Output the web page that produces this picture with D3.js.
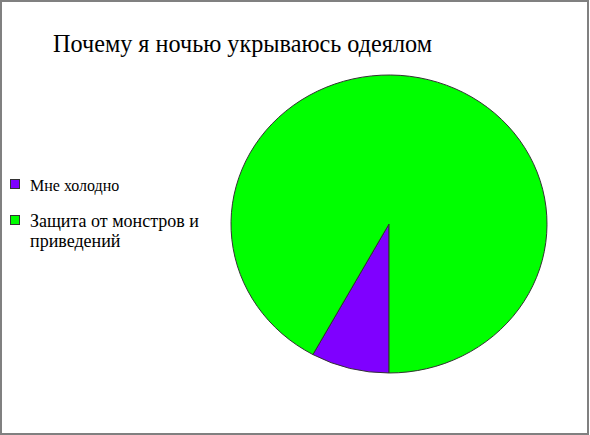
<!DOCTYPE html>
<html>
<head>
<meta charset="utf-8">
<script src="https://cdn.jsdelivr.net/npm/d3@7"></script>
<style>
  body { margin: 0; background: #fff; }
  svg { display: block; }
</style>
</head>
<body>
<svg id="chart"></svg>
<script>
"use strict";

const title = "Почему я ночью укрываюсь одеялом";
const categories = ["Мне холодно", "Защита от монстров и приведений"];
const legendLines = [["Мне холодно"], ["Защита от монстров и", "приведений"]];
const values = [8, 92];
const colors = ["#7f00ff", "#00ff00"];

const width = 590, height = 435;
const font = "'Liberation Serif'";

let svg = d3.select("#chart")
  .attr("width", width)
  .attr("height", height);

// outer frame
svg.append("rect")
  .attr("x", 1)
  .attr("y", 1)
  .attr("width", width - 3)
  .attr("height", height - 2)
  .attr("fill", "#fff")
  .attr("stroke", "#808080")
  .attr("stroke-width", 2);

// title: the original font is a bit condensed, squeeze to its width
svg.append("text")
  .attr("x", 53)
  .attr("y", 52)
  .style("font-family", font)
  .style("font-size", "26px")
  .attr("textLength", 379)
  .attr("lengthAdjust", "spacingAndGlyphs")
  .attr("fill", "#000")
  .text(title);

// pie, slightly squashed vertically like the original
let rx = 158, ry = 149;
let pie = d3.pie().sort(null).startAngle(Math.PI).endAngle(3 * Math.PI);
let arc = d3.arc().innerRadius(0).outerRadius(rx);

let g = svg.append("g")
  .attr("transform", "translate(389,224) scale(1," + (ry / rx) + ")");

g.selectAll("path")
  .data(pie(values))
  .join("path")
  .attr("d", arc)
  .attr("fill", (d, i) => colors[i])
  .attr("stroke", "#333")
  .attr("stroke-width", 1)
  .attr("vector-effect", "non-scaling-stroke");

// legend
let legendY = [179, 215];
let legendSize = [16, 18];
let lg = svg.append("g");
categories.forEach(function(c, i) {
  lg.append("rect")
    .attr("x", 10.5)
    .attr("y", legendY[i] + 0.5)
    .attr("width", 9)
    .attr("height", 9)
    .attr("fill", colors[i])
    .attr("stroke", "#333")
    .attr("stroke-width", 1);
  let t = lg.append("text")
    .style("font-family", font)
    .style("font-size", legendSize[i] + "px")
    .attr("fill", "#000");
  legendLines[i].forEach(function(line, j) {
    t.append("tspan")
      .attr("x", 30)
      .attr("y", legendY[i] + 12 + j * 19.5)
      .text(line);
  });
});
</script>
</body>
</html>
